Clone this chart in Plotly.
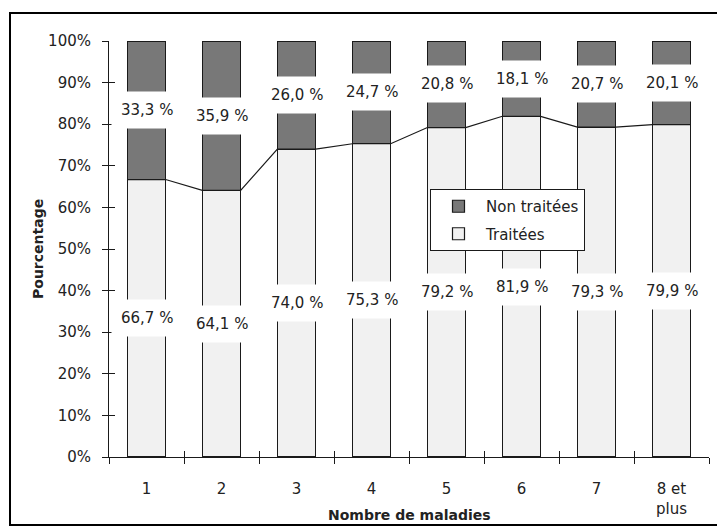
import plotly.graph_objects as go

# ---- data ----
categories = ["1", "2", "3", "4", "5", "6", "7", "8 et<br>plus"]
traitees = [66.7, 64.1, 74.0, 75.3, 79.2, 81.9, 79.3, 79.9]
non_traitees = [33.3, 35.9, 26.0, 24.7, 20.8, 18.1, 20.7, 20.1]
y_tick_vals = [0, 10, 20, 30, 40, 50, 60, 70, 80, 90, 100]
y_tick_text = [f"{v}%" for v in y_tick_vals]
series_names = ["Traitées", "Non traitées"]
x_title = "Nombre de maladies"
y_title = "Pourcentage"

# ---- style / layout constants ----
OFF = 8                      # page body margin of the browser
W, H = 725 - OFF, 532 - OFF
L, R, T, B = 109 - OFF, 709 - OFF, 41 - OFF, 457 - OFF
BAR_WIDTH = 0.51
FONT = "DejaVu Sans"
TXT = "#222222"
DARK = "#787878"
LIGHT = "#f1f1f1"
EDGE = "#1a1a1a"


def px_x(px):
    return (px - OFF - L) / (R - L)


def px_y(py):
    return (B - (py - OFF)) / (B - T)


def fmt(v):
    return f"{v:.1f}".replace(".", ",") + " %"


fig = go.Figure()
fig.add_trace(go.Bar(
    x=categories, y=traitees, name=series_names[0], legendgroup="a",
    legendrank=2,
    marker=dict(color=LIGHT, line=dict(color=EDGE, width=1.2)),
    hoverinfo="skip",
))
fig.add_trace(go.Bar(
    x=categories, y=non_traitees, name=series_names[1], legendgroup="b",
    legendrank=1,
    marker=dict(color=DARK, line=dict(color=EDGE, width=1.2)),
    hoverinfo="skip",
))

# series line joining the tops of the "Traitées" segments
lx, ly = [], []
for i, v in enumerate(traitees):
    lx += [i - BAR_WIDTH / 2, i + BAR_WIDTH / 2]
    ly += [v, v]
fig.add_trace(go.Scatter(
    x=lx, y=ly, xaxis="x2", yaxis="y2", mode="lines",
    line=dict(color=EDGE, width=1.2), showlegend=False, hoverinfo="skip",
))

annotations = []
for i, (t, n) in enumerate(zip(traitees, non_traitees)):
    annotations.append(dict(
        x=i, y=t / 2, xref="x2", yref="y2", text=fmt(t),
        showarrow=False, bgcolor="white", borderpad=9,
        font=dict(family=FONT, size=15, color=TXT),
    ))
    annotations.append(dict(
        x=i, y=t + n / 2, xref="x2", yref="y2", text=fmt(n),
        showarrow=False, bgcolor="white", borderpad=9,
        font=dict(family=FONT, size=15, color=TXT),
    ))

annotations.append(dict(
    x=0.5, y=px_y(515), xref="paper", yref="paper", text=f"<b>{x_title}</b>",
    showarrow=False, xanchor="center", yanchor="middle",
    font=dict(family=FONT, size=14, color=TXT),
))
annotations.append(dict(
    x=px_x(38), y=0.5, xref="paper", yref="paper", text=f"<b>{y_title}</b>",
    showarrow=False, xanchor="center", yanchor="middle", textangle=-90,
    font=dict(family=FONT, size=14, color=TXT),
))

fig.update_layout(
    width=W, height=H,
    margin=dict(l=L, r=W - R, t=T, b=H - B, pad=0),
    paper_bgcolor="white", plot_bgcolor="white",
    barmode="stack", bargap=1 - BAR_WIDTH,
    font=dict(family=FONT, size=15, color=TXT),
    showlegend=True,
    legend=dict(
        x=px_x(430), y=px_y(189), xanchor="left", yanchor="top",
        bgcolor="white", bordercolor=EDGE, borderwidth=1,
        traceorder="grouped", tracegroupgap=5,
        font=dict(family=FONT, size=15, color=TXT),
        itemwidth=45, entrywidth=158,
    ),
    xaxis=dict(
        type="category", range=[-0.5, len(categories) - 0.5],
        showline=True, linecolor=EDGE, linewidth=1,
        ticks="outside", tickson="boundaries", ticklen=6, tickcolor=EDGE,
        showgrid=False, ticklabelstandoff=18,
        tickfont=dict(family=FONT, size=15, color=TXT),
        fixedrange=True,
    ),
    yaxis=dict(
        range=[0, 100], tickvals=y_tick_vals, ticktext=y_tick_text,
        showline=True, linecolor=EDGE, linewidth=1,
        ticks="outside", ticklen=6, tickcolor=EDGE,
        showgrid=False, zeroline=False, ticklabelstandoff=8,
        tickfont=dict(family=FONT, size=15, color=TXT),
        fixedrange=True,
    ),
    xaxis2=dict(
        overlaying="x", anchor="y2", range=[-0.5, len(categories) - 0.5],
        tickvals=[i - 0.5 for i in range(len(categories) + 1)],
        ticks="inside", ticklen=6, tickcolor=EDGE, showticklabels=False,
        showline=False, showgrid=False, zeroline=False, fixedrange=True,
    ),
    yaxis2=dict(
        overlaying="y", anchor="x2", side="left", range=[0, 100],
        tickvals=y_tick_vals, ticks="inside", ticklen=6, tickcolor=EDGE,
        showticklabels=False, showline=False, showgrid=False,
        zeroline=False, fixedrange=True,
    ),
    annotations=annotations,
    shapes=[dict(
        type="rect", xref="paper", yref="paper", layer="above",
        x0=px_x(10), x1=px_x(719), y0=px_y(525), y1=px_y(13),
        line=dict(color="black", width=2), fillcolor="rgba(0,0,0,0)",
    )],
)

fig.write_html("out.html", config=dict(displayModeBar=False))
